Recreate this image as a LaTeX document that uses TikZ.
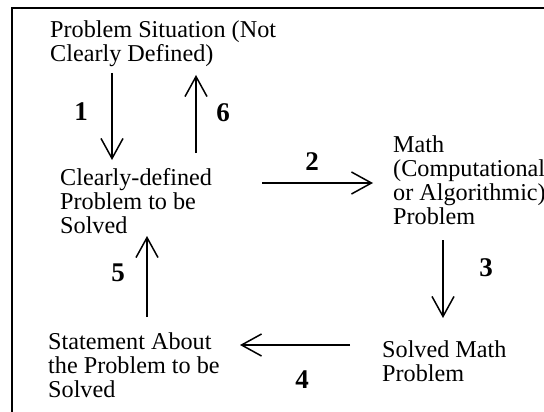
\documentclass[tikz,border=0pt]{standalone}
\usepackage{fontspec}
\setmainfont{Liberation Serif}
\usetikzlibrary{arrows.meta}
\tikzset{
  txt/.style={font=\fontsize{24.2}{24}\selectfont, align=left, inner sep=0pt, anchor=north west},
  num/.style={font=\fontsize{27}{27}\selectfont\bfseries, inner sep=0pt},
  flow/.style={line width=1.5pt, -{Straight Barb[length=20pt,width=22pt]}},
  frm/.style={line width=2pt},
}
\begin{document}
\begin{tikzpicture}[x=1pt, y=-1pt]
  \useasboundingbox (0,0) rectangle (544,412);
  \draw[frm] (11.5,8.5) rectangle (600,460);
  \node[txt] (sit) at (50,21) {Problem Situation (Not\\Clearly Defined)};
  \node[txt] (clear) at (60,168) {Clearly-defined\\Problem to be\\Solved};
  \node[txt] (math) at (393,136) {Math\\(Computational\\or Algorithmic)\\Problem};
  \node[txt] (solved) at (382,341) {Solved Math\\Problem};
  \node[txt] (stmt) at (48,333) {Statement About\\the Problem to be\\Solved};
  \draw[flow] ([shift={(62,52)}]sit.north west) -- ([shift={(52,-8)}]clear.north west);
  \draw[flow] ([shift={(202,15)}]clear.north west) -- ([shift={(-20,47)}]math.north west);
  \draw[flow] ([shift={(50,104)}]math.north west) -- ([shift={(61,-23)}]solved.north west);
  \draw[flow] ([shift={(-32,4)}]solved.north west) -- ([shift={(192,12)}]stmt.north west);
  \draw[flow] ([shift={(99,-16)}]stmt.north west) -- ([shift={(87,68)}]clear.north west);
  \draw[flow] ([shift={(136,-15)}]clear.north west) -- ([shift={(146,54)}]sit.north west);
  \node[num] (n1) at (81,112) {1};
  \node[num] (n2) at (312,162) {2};
  \node[num] (n3) at (486,268) {3};
  \node[num] (n4) at (302,380) {4};
  \node[num] (n5) at (118,273) {5};
  \node[num] (n6) at (223,113) {6};
\end{tikzpicture}
\end{document}
